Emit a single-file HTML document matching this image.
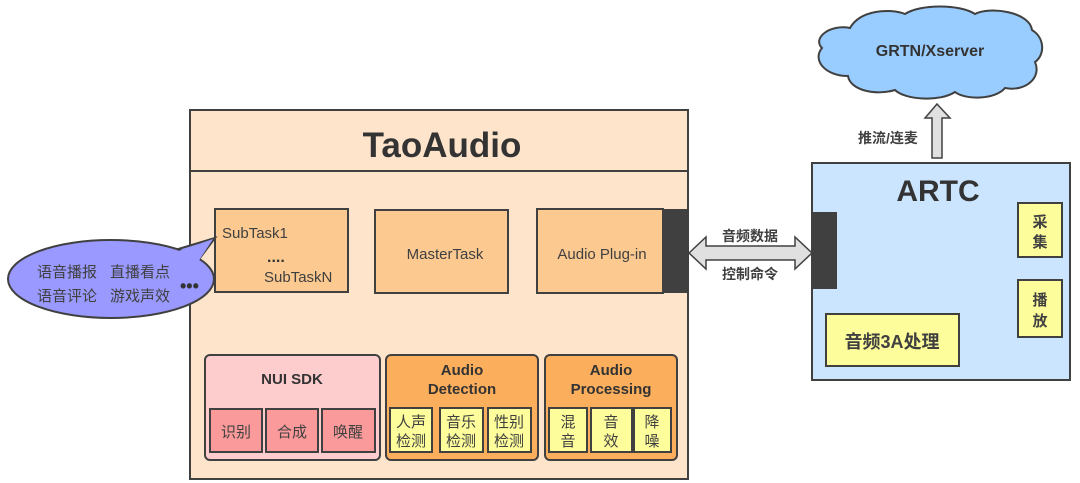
<!DOCTYPE html>
<html><head><meta charset="utf-8"><style>
body{margin:0;background:#fff;}
svg{display:block;font-family:"Liberation Sans","Noto Sans CJK SC",sans-serif;}
</style></head><body>
<svg width="1080" height="483" viewBox="0 0 1080 483" xmlns="http://www.w3.org/2000/svg">
<!-- TaoAudio -->
<rect x="190" y="110" width="498" height="369" fill="#fde4ca" stroke="#404040" stroke-width="2"/>
<line x1="190" y1="171" x2="688" y2="171" stroke="#404040" stroke-width="2"/>
<text x="442" y="157" text-anchor="middle" font-size="35" font-weight="bold" fill="#333">TaoAudio</text>

<rect x="215" y="209" width="133" height="83" fill="#fcc990" stroke="#404040" stroke-width="2"/>
<text x="222" y="238" font-size="15" fill="#404040">SubTask1</text>
<text x="267" y="262" font-size="16" font-weight="bold" fill="#333">....</text>
<text x="264" y="282" font-size="15" fill="#404040">SubTaskN</text>

<rect x="375" y="210" width="133" height="83" fill="#fcc990" stroke="#404040" stroke-width="2"/>
<text x="445" y="259" text-anchor="middle" font-size="15" fill="#404040">MasterTask</text>

<rect x="537" y="209" width="126" height="84" fill="#fcc990" stroke="#404040" stroke-width="2"/>
<rect x="663" y="209" width="25" height="84" fill="#404040"/>
<text x="602" y="259" text-anchor="middle" font-size="15" fill="#404040">Audio Plug-in</text>

<!-- NUI SDK -->
<rect x="205" y="355" width="175" height="105" rx="5" fill="#fdcccc" stroke="#404040" stroke-width="2"/>
<text x="292" y="384" text-anchor="middle" font-size="15" font-weight="bold" fill="#333">NUI SDK</text>
<rect x="210" y="409" width="52" height="43" fill="#fb9a9a" stroke="#404040" stroke-width="2"/>
<rect x="266" y="409" width="52" height="43" fill="#fb9a9a" stroke="#404040" stroke-width="2"/>
<rect x="322" y="409" width="53" height="43" fill="#fb9a9a" stroke="#404040" stroke-width="2"/>
<g font-size="15" fill="#404040" text-anchor="middle">
<text x="236" y="437">识别</text><text x="292" y="437">合成</text><text x="348" y="437">唤醒</text>
</g>

<!-- Audio Detection -->
<rect x="386" y="355" width="152" height="105" rx="5" fill="#fbae5c" stroke="#404040" stroke-width="2"/>
<text x="462" y="375" text-anchor="middle" font-size="15" font-weight="bold" fill="#333">Audio</text>
<text x="462" y="394" text-anchor="middle" font-size="15" font-weight="bold" fill="#333">Detection</text>
<rect x="390" y="408" width="42" height="44" fill="#fdfd9c" stroke="#404040" stroke-width="2"/>
<rect x="440" y="408" width="43" height="44" fill="#fdfd9c" stroke="#404040" stroke-width="2"/>
<rect x="488" y="408" width="43" height="44" fill="#fdfd9c" stroke="#404040" stroke-width="2"/>
<g font-size="15" fill="#404040" text-anchor="middle">
<text x="411" y="427">人声</text><text x="411" y="446">检测</text>
<text x="461" y="427">音乐</text><text x="461" y="446">检测</text>
<text x="509" y="427">性别</text><text x="509" y="446">检测</text>
</g>

<!-- Audio Processing -->
<rect x="545" y="355" width="132" height="105" rx="5" fill="#fbae5c" stroke="#404040" stroke-width="2"/>
<text x="611" y="375" text-anchor="middle" font-size="15" font-weight="bold" fill="#333">Audio</text>
<text x="611" y="394" text-anchor="middle" font-size="15" font-weight="bold" fill="#333">Processing</text>
<rect x="549" y="408" width="38" height="44" fill="#fdfd9c" stroke="#404040" stroke-width="2"/>
<rect x="591" y="408" width="41" height="44" fill="#fdfd9c" stroke="#404040" stroke-width="2"/>
<rect x="634" y="408" width="37" height="44" fill="#fdfd9c" stroke="#404040" stroke-width="2"/>
<g font-size="15" fill="#404040" text-anchor="middle">
<text x="568" y="427">混</text><text x="568" y="446">音</text>
<text x="611" y="427">音</text><text x="611" y="446">效</text>
<text x="652" y="427">降</text><text x="652" y="446">噪</text>
</g>

<!-- speech bubble -->
<path d="M175,250 L215,238 L197,262" fill="#9999ff" stroke="#404040" stroke-width="2"/>
<ellipse cx="111" cy="279" rx="103" ry="39" fill="#9999ff" stroke="#404040" stroke-width="2"/>
<path d="M176,252 L213,239 L198,262 Z" fill="#9999ff"/>
<g font-size="15" fill="#404040">
<text x="37" y="277">语音播报</text><text x="110" y="277">直播看点</text>
<text x="37" y="301">语音评论</text><text x="110" y="301">游戏声效</text>
</g>
<text x="180" y="292" font-size="18" font-weight="bold" fill="#333">•••</text>

<!-- bidirectional arrow -->
<path d="M689,253 L706,237 L706,246 L795,246 L795,237 L812,253 L795,269 L795,260 L706,260 L706,269 Z" fill="#e0e0e0" stroke="#404040" stroke-width="1.5"/>
<text x="750" y="241" text-anchor="middle" font-size="14" font-weight="bold" fill="#404040">音频数据</text>
<text x="750" y="279" text-anchor="middle" font-size="14" font-weight="bold" fill="#404040">控制命令</text>

<!-- ARTC -->
<rect x="812" y="163" width="258" height="217" fill="#cce5ff" stroke="#404040" stroke-width="2"/>
<rect x="812" y="212" width="25" height="77" fill="#404040"/>
<text x="938" y="201" text-anchor="middle" font-size="30" font-weight="bold" fill="#333">ARTC</text>
<rect x="1018" y="203" width="44" height="54" fill="#fdfd9c" stroke="#404040" stroke-width="2"/>
<text x="1040" y="227" text-anchor="middle" font-size="15" font-weight="bold" fill="#404040">采</text>
<text x="1040" y="247" text-anchor="middle" font-size="15" font-weight="bold" fill="#404040">集</text>
<rect x="1018" y="280" width="44" height="57" fill="#fdfd9c" stroke="#404040" stroke-width="2"/>
<text x="1040" y="305" text-anchor="middle" font-size="15" font-weight="bold" fill="#404040">播</text>
<text x="1040" y="326" text-anchor="middle" font-size="15" font-weight="bold" fill="#404040">放</text>
<rect x="826" y="314" width="133" height="52" fill="#fdfd9c" stroke="#404040" stroke-width="2"/>
<text x="892" y="348" text-anchor="middle" font-size="18" font-weight="bold" fill="#404040">音频3A处理</text>

<!-- up arrow -->
<path d="M932,158 L932,118 L925,118 L937,104 L950,118 L942,118 L942,158 Z" fill="#e0e0e0" stroke="#404040" stroke-width="1.5"/>
<text x="888" y="143" text-anchor="middle" font-size="14" font-weight="bold" fill="#404040">推流/连麦</text>

<!-- cloud -->
<path d="M850,28 C860,10 890,8 905,14 C920,4 960,4 975,14 C990,6 1030,12 1032,30 C1045,38 1045,55 1035,62 C1042,78 1025,92 1005,88 C995,100 965,100 955,92 C940,102 905,100 895,90 C875,96 850,90 848,76 C825,76 812,60 822,48 C812,38 830,24 850,28 Z" fill="#99ccff" stroke="#404040" stroke-width="2"/>
<text x="930" y="56" text-anchor="middle" font-size="16" font-weight="bold" fill="#333">GRTN/Xserver</text>
</svg>
</body></html>
